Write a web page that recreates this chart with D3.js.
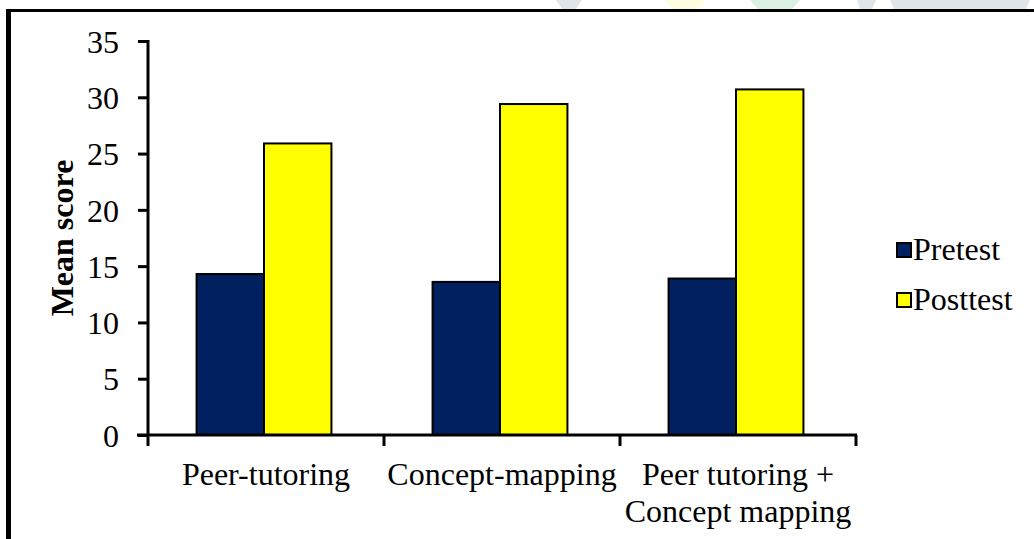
<!DOCTYPE html>
<html>
<head>
<meta charset="utf-8">
<script src="https://cdn.jsdelivr.net/npm/d3@7"></script>
<style>
  html, body { margin: 0; padding: 0; background: #fff; }
  svg { display: block; font-family: "Liberation Serif", "Times New Roman", serif; }
  text { font-family: "Liberation Serif", "Times New Roman", serif; fill: #000; }
</style>
</head>
<body>
<svg id="chart" width="1034" height="539"></svg>
<script>
// Chart data
const categories = ["Peer-tutoring", "Concept-mapping", "Peer tutoring +\nConcept mapping"];
const seriesNames = ["Pretest", "Posttest"];
const pretest = [14.3, 13.6, 13.9];
const posttest = [25.9, 29.4, 30.7];
const yTicks = [0, 5, 10, 15, 20, 25, 30, 35];
const seriesColors = ["#002060", "#FFFF00"];

const svg = d3.select("#chart");
const W = 1034, H = 539;
const FS = "32px";

// Faint decorative shapes peeking above the frame
const deco = [
  { pts: [[556, 0], [582, 0], [576, 9], [562, 9]], c: "#dfe5e8" },
  { pts: [[664, 0], [706, 0], [698, 9], [672, 9]], c: "#fefde2" },
  { pts: [[750, 0], [800, 0], [792, 9], [758, 9]], c: "#d9f0e3" },
  { pts: [[857, 0], [876, 0], [872, 9], [860, 9]], c: "#dfe5e8" },
  { pts: [[890, 0], [1030, 0], [1026, 9], [894, 9]], c: "#dfe5e8" }
];
svg.selectAll("polygon.deco").data(deco).join("polygon")
  .attr("class", "deco")
  .attr("points", d => d.pts.map(p => p.join(",")).join(" "))
  .attr("fill", d => d.c);

// Frame: top and left edges
svg.append("line").attr("x1", 6).attr("x2", W).attr("y1", 10.5).attr("y2", 10.5)
  .attr("stroke", "#000").attr("stroke-width", 3);
svg.append("line").attr("x1", 8.5).attr("x2", 8.5).attr("y1", 9).attr("y2", H)
  .attr("stroke", "#000").attr("stroke-width", 5);

// Plot geometry
const x0 = 148, x1 = 856, yTop = 41, yBot = 435;

const x = d3.scaleBand().domain(d3.range(categories.length)).range([x0, x1]).padding(0);
const xs = d3.scaleBand().domain(seriesNames).range([-2, x.bandwidth() - 2])
  .paddingInner(0).paddingOuter(0.75);
const y = d3.scaleLinear().domain([0, 35]).range([yBot, yTop]);

const rows = categories.map((c, i) => ({ i, values: [pretest[i], posttest[i]] }));

// Bars
const g = svg.append("g");
g.selectAll("g.cat").data(rows).join("g")
  .attr("class", "cat")
  .attr("transform", d => `translate(${x(d.i)},0)`)
  .selectAll("rect").data(d => d.values.map((v, k) => ({ v, k })))
  .join("rect")
  .attr("x", d => xs(seriesNames[d.k]))
  .attr("y", d => y(d.v))
  .attr("width", xs.bandwidth())
  .attr("height", d => yBot - y(d.v))
  .attr("fill", d => seriesColors[d.k])
  .attr("stroke", "#000")
  .attr("stroke-width", 2);

// Y axis
const yAxis = svg.append("g").attr("transform", `translate(${x0},0)`)
  .call(d3.axisLeft(y).tickValues(yTicks).tickSize(10).tickPadding(19).tickFormat(d3.format("d")));
yAxis.attr("font-family", null).attr("font-size", null);
yAxis.select(".domain").attr("stroke", "#000").attr("stroke-width", 3)
  .attr("d", `M0,${yTop - 1}V${yBot + 1}`);
yAxis.selectAll(".tick line").attr("stroke", "#000").attr("stroke-width", 3);
yAxis.selectAll(".tick text").style("font-size", FS).attr("dy", "0.35em");

// X axis
const xAxisG = svg.append("g").attr("transform", `translate(0,${yBot})`);
xAxisG.append("line").attr("x1", x0 - 11).attr("x2", x1 + 1).attr("y1", 0).attr("y2", 0)
  .attr("stroke", "#000").attr("stroke-width", 3);
const boundaries = d3.range(categories.length + 1).map(i => x0 + i * x.bandwidth());
xAxisG.selectAll("line.xt").data(boundaries).join("line")
  .attr("class", "xt")
  .attr("x1", d => d).attr("x2", d => d).attr("y1", 0).attr("y2", 11)
  .attr("stroke", "#000").attr("stroke-width", 3);

// Category labels (multi-line where needed)
const lab = svg.append("g").selectAll("text").data(categories).join("text")
  .attr("text-anchor", "middle")
  .attr("x", (d, i) => x(i) + x.bandwidth() / 2)
  .attr("y", 485)
  .style("font-size", FS);
lab.selectAll("tspan").data(d => d.split("\n")).join("tspan")
  .attr("x", function () { return this.parentNode.getAttribute("x"); })
  .attr("dy", (d, k) => k === 0 ? 0 : 37)
  .text(d => d);

// Y axis title
svg.append("text")
  .attr("transform", `translate(73,${(yTop + yBot) / 2}) rotate(-90)`)
  .attr("text-anchor", "middle")
  .style("font-size", FS).style("font-weight", "bold")
  .text("Mean score");

// Legend
const legend = svg.append("g").selectAll("g").data(seriesNames).join("g")
  .attr("transform", (d, i) => `translate(897,${243 + i * 50})`);
legend.append("rect").attr("width", 14).attr("height", 14)
  .attr("fill", (d, i) => seriesColors[i]).attr("stroke", "#000").attr("stroke-width", 2);
legend.append("text").attr("x", 16).attr("y", 17)
  .style("font-size", FS).text(d => d);
</script>
</body>
</html>
